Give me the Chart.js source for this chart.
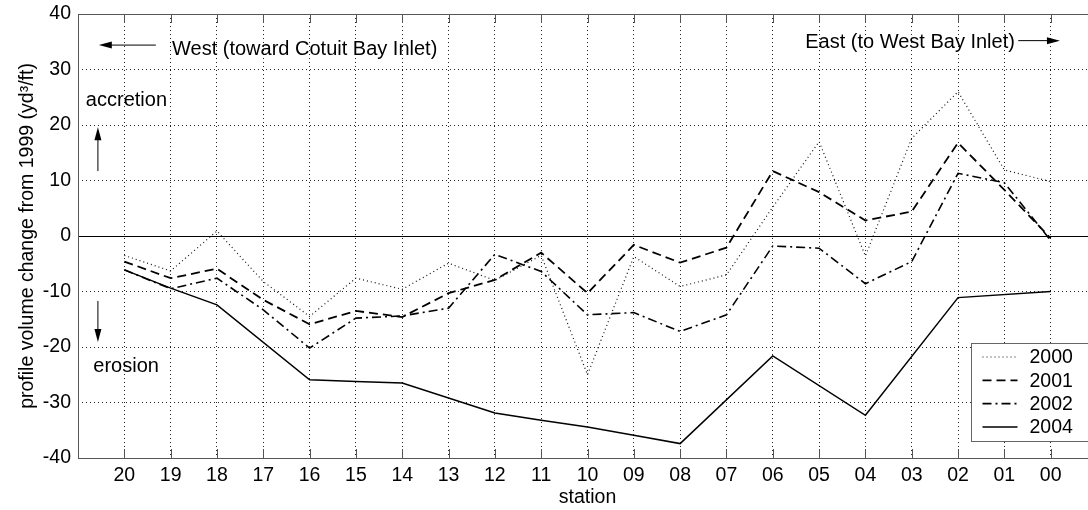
<!DOCTYPE html>
<html>
<head>
<meta charset="utf-8">
<script src="https://cdn.jsdelivr.net/npm/chart.js@4/dist/chart.umd.min.js"></script>
<style>
  html, body { margin: 0; padding: 0; background: #fff; }
  #wrap { width: 1088px; height: 510px; overflow: hidden; }
  canvas { display: block; }
</style>
</head>
<body>
<div id="wrap"><canvas id="chart" width="1100" height="510"></canvas></div>
<script>
// station labels, west (20) to east (00)
const stations = ['20', '19', '18', '17', '16', '15', '14', '13', '12', '11', '10',
                  '09', '08', '07', '06', '05', '04', '03', '02', '01', '00'];
const years = ['2000', '2001', '2002', '2004'];

// profile volume change from 1999, yd^3/ft (null = no survey, line spans across)
const vol2000 = [-3.5, -6.3, 0.9, -8.2, -14.5, -7.6, -9.6, -4.9, -8.0, -3.5, -25.0,
                 -3.7, -9.1, -7.0, 5.2, 17.0, -3.6, 17.6, 26.0, 11.9, 9.8];
const vol2001 = [-4.6, -7.6, -5.9, -11.5, -15.9, -13.5, -14.6, -10.3, -7.9, -3.0, -10.3,
                 -1.6, -4.8, -2.1, 11.7, 7.9, 2.8, 4.4, 16.8, 8.3, -0.4];
const vol2002 = [-6.1, -9.5, -7.6, -13.3, -20.2, -14.8, -14.4, -13.0, -3.3, -6.4, -14.2,
                 -13.8, -17.2, -14.2, -1.8, -2.2, -8.6, -4.6, 11.3, 9.6, -0.8];
const vol2004 = [-6.1, -9.4, -12.4, null, -25.9, -26.2, -26.5, null, -31.9, -33.2, -34.4,
                 -35.9, -37.4, null, -21.6, null, -32.3, null, -11.1, null, -10.0];

const FONT = '"Liberation Sans", Arial, Helvetica, sans-serif';
Chart.defaults.font.family = FONT;
Chart.defaults.font.size = 19.5;
Chart.defaults.color = '#000';

const styles = [
  { color: '#111', width: 1.2, dash: [1, 3] },
  { color: '#000', width: 1.8, dash: [9, 5] },
  { color: '#000', width: 1.6, dash: [9, 4, 2, 4] },
  { color: '#000', width: 1.5, dash: [] }
];

function toPoints(vals) {
  return vals.map((v, i) => ({ x: i, y: v }));
}

const series = [vol2000, vol2001, vol2002, vol2004];
const datasets = series.map((vals, k) => ({
  label: years[k],
  data: toPoints(vals),
  borderColor: styles[k].color,
  borderWidth: styles[k].width,
  borderDash: styles[k].dash,
  pointRadius: 0,
  fill: false,
  tension: 0,
  spanGaps: true
}));

// text notes and arrows, in data units (x = station index, y = volume)
const notes = [
  { text: 'West (toward Cotuit Bay Inlet)', x: 1.03, y: 32.6 },
  { text: 'East (to West Bay Inlet)', x: 14.7, y: 33.9 },
  { text: 'accretion', x: -0.83, y: 23.4 },
  { text: 'erosion', x: -0.67, y: -24.5 }
];
const arrows = [
  { x1: 0.68, y1: 34.4, x2: -0.55, y2: 34.4 },
  { x1: 19.3, y1: 35.2, x2: 20.2, y2: 35.2 },
  { x1: -0.57, y1: 11.7, x2: -0.57, y2: 19.6 },
  { x1: -0.57, y1: -11.7, x2: -0.57, y2: -19.1 }
];

function seg(ctx, x1, y1, x2, y2) {
  ctx.beginPath();
  ctx.moveTo(x1, y1);
  ctx.lineTo(x2, y2);
  ctx.stroke();
}

const framePlugin = {
  id: 'frame',
  beforeDatasetsDraw(chart) {
    const { ctx, chartArea: a, scales: { x, y } } = chart;
    ctx.save();
    ctx.lineWidth = 1;
    // zero line
    ctx.strokeStyle = '#000';
    const y0 = Math.round(y.getPixelForValue(0)) + 0.5;
    seg(ctx, a.left, y0, a.right, y0);
    // axes box
    ctx.strokeStyle = '#555';
    ctx.strokeRect(Math.round(a.left) + 0.5, Math.round(a.top) + 0.5,
                   Math.round(a.right - a.left), Math.round(a.bottom - a.top));
    // inward tick marks on top and bottom
    stations.forEach((s, i) => {
      const px = Math.round(x.getPixelForValue(i)) + 0.5;
      seg(ctx, px, a.bottom, px, a.bottom - 9);
      seg(ctx, px, a.top, px, a.top + 9);
    });
    ctx.restore();
  }
};

const legendPlugin = {
  id: 'boxLegend',
  afterDatasetsDraw(chart) {
    const { ctx, chartArea: a } = chart;
    const left = Math.round(a.right - 126) + 0.5;
    const top = Math.round(a.bottom - 115) + 0.5;
    ctx.save();
    ctx.fillStyle = '#fff';
    ctx.fillRect(left, top, 118, 98);
    ctx.strokeStyle = '#666';
    ctx.lineWidth = 1;
    ctx.strokeRect(left, top, 118, 98);
    ctx.font = '19.5px ' + FONT;
    ctx.textBaseline = 'middle';
    ctx.fillStyle = '#000';
    chart.data.datasets.forEach((ds, i) => {
      const ry = top + 13.5 + i * 23.3;
      ctx.strokeStyle = ds.borderColor;
      ctx.lineWidth = ds.borderWidth;
      ctx.setLineDash(ds.borderDash);
      seg(ctx, left + 11, ry, left + 46, ry);
      ctx.setLineDash([]);
      ctx.fillText(ds.label, left + 58, ry + 1);
    });
    ctx.restore();
  }
};

const notesPlugin = {
  id: 'notes',
  afterDraw(chart) {
    const { ctx, scales: { x, y } } = chart;
    ctx.save();
    ctx.font = '20px ' + FONT;
    ctx.fillStyle = '#000';
    ctx.textBaseline = 'alphabetic';
    notes.forEach(n => ctx.fillText(n.text, x.getPixelForValue(n.x), y.getPixelForValue(n.y)));
    ctx.strokeStyle = '#000';
    ctx.lineWidth = 1;
    arrows.forEach(ar => {
      const x1 = x.getPixelForValue(ar.x1), y1 = y.getPixelForValue(ar.y1);
      const x2 = x.getPixelForValue(ar.x2), y2 = y.getPixelForValue(ar.y2);
      const ang = Math.atan2(y2 - y1, x2 - x1);
      const len = 13, hw = 3.5;
      seg(ctx, x1, y1, x2 - Math.cos(ang) * len * 0.8, y2 - Math.sin(ang) * len * 0.8);
      ctx.beginPath();
      ctx.moveTo(x2, y2);
      ctx.lineTo(x2 - Math.cos(ang) * len - Math.sin(ang) * hw, y2 - Math.sin(ang) * len + Math.cos(ang) * hw);
      ctx.lineTo(x2 - Math.cos(ang) * len + Math.sin(ang) * hw, y2 - Math.sin(ang) * len - Math.cos(ang) * hw);
      ctx.closePath();
      ctx.fill();
    });
    ctx.restore();
  }
};

const ctx = document.getElementById('chart').getContext('2d');
new Chart(ctx, {
  type: 'line',
  data: { datasets: datasets },
  options: {
    responsive: false,
    animation: false,
    devicePixelRatio: 1,
    layout: { padding: { top: 14, left: 0, right: 3, bottom: 0 } },
    plugins: { legend: { display: false }, tooltip: { enabled: false } },
    scales: {
      x: {
        type: 'linear',
        min: -1,
        max: 21,
        afterFit: s => { s.height = 52; s.paddingLeft = 0; s.paddingRight = 0; },
        afterBuildTicks: s => {
          s.ticks = [];
          for (let i = -1; i <= 21; i++) s.ticks.push({ value: i });
        },
        ticks: {
          autoSkip: false,
          maxRotation: 0,
          padding: 6,
          callback: v => stations[v] || ''
        },
        grid: {
          drawTicks: false,
          lineWidth: 1,
          color: c => (c.tick && c.tick.value >= 0 && c.tick.value <= 20) ? '#222' : 'rgba(0,0,0,0)'
        },
        border: { display: false, dash: [1, 3] },
        title: { display: true, text: 'station', padding: { top: 0, bottom: 1 } }
      },
      y: {
        min: -40,
        max: 40,
        afterFit: s => { s.width = 78; s.paddingTop = 0; s.paddingBottom = 0; },
        ticks: { stepSize: 10, padding: 7 },
        grid: {
          drawTicks: false,
          lineWidth: 1,
          color: c => (c.tick && Math.abs(c.tick.value) < 40 && c.tick.value !== 0) ? '#222' : 'rgba(0,0,0,0)'
        },
        border: { display: false, dash: [1, 3] },
        title: { display: true, text: 'profile volume change from 1999 (yd³/ft)', padding: { top: 16, bottom: 0 } }
      }
    }
  },
  plugins: [framePlugin, legendPlugin, notesPlugin]
});
</script>
</body>
</html>
